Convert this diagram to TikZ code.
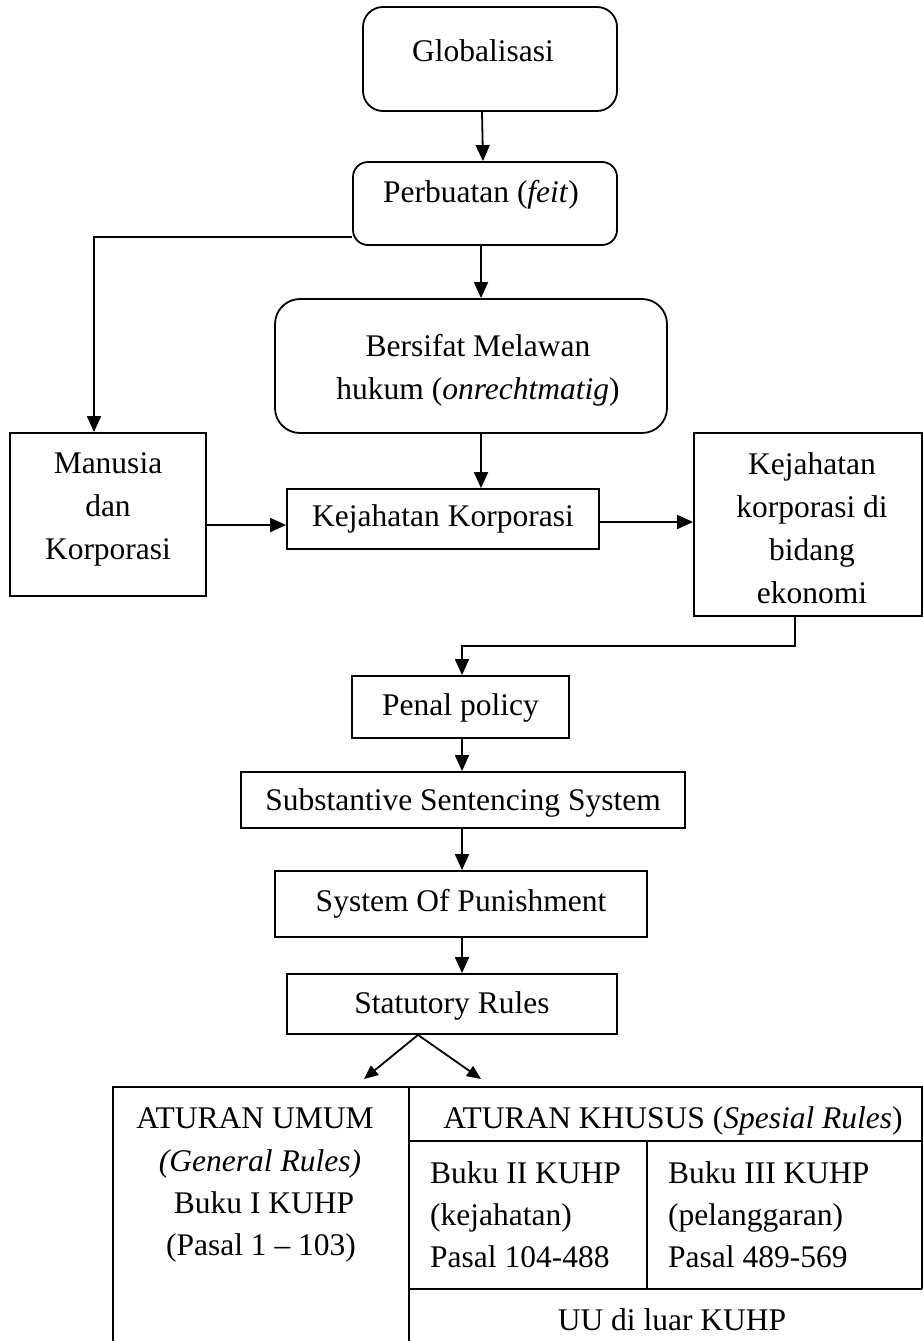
\documentclass[tikz,border=0pt]{standalone}
\usepackage{fontspec}
\setmainfont{Liberation Serif}
\usetikzlibrary{arrows.meta}
\tikzset{
  box/.style={draw, line width=1.8pt, inner sep=0pt},
  rbox/.style={box, rounded corners=#1},
  txt/.style={inner sep=0pt, align=center, font=\fontsize{31.5}{43}\selectfont},
  ltxt/.style={inner sep=0pt, align=left, anchor=base west, font=\fontsize{31.5}{42}\selectfont},
  btxt/.style={inner sep=0pt, anchor=base, font=\fontsize{31.5}{42}\selectfont},
  arr/.style={line width=1.8pt, -{Triangle[length=16pt,width=14pt]}},
  darr/.style={line width=1.8pt, -{Triangle[length=14pt,width=12pt]}},
  ln/.style={line width=1.8pt}
}
\begin{document}
\begin{tikzpicture}[x=1pt,y=-1pt]
\useasboundingbox (0,0) rectangle (923,1341);
% boxes
\node[rbox=20pt, minimum width=254pt, minimum height=104pt] (glob) at (490,59) {};
\node[rbox=15pt, minimum width=264pt, minimum height=83pt] (perb) at (485,203.5) {};
\node[rbox=25pt, minimum width=392pt, minimum height=134pt] (bers) at (471,366) {};
\node[box, minimum width=196pt, minimum height=163pt] (manu) at (108,514.5) {};
\node[box, minimum width=312pt, minimum height=60pt] (kk) at (443,519) {};
\node[box, minimum width=228pt, minimum height=183pt] (eko) at (808,524.5) {};
\node[box, minimum width=217pt, minimum height=62pt] (penal) at (460.5,707) {};
\node[box, minimum width=444pt, minimum height=56pt] (subs) at (463,800) {};
\node[box, minimum width=372pt, minimum height=66pt] (sop) at (461,904) {};
\node[box, minimum width=330pt, minimum height=60pt] (stat) at (452,1004) {};
% texts
\node[txt] (globt) at (483,51) {Globalisasi};
\node[txt] (perbt) at (481,195) {Perbuatan (\textit{feit})};
\node[txt] (berst) at (478,370.5) {Bersifat Melawan\\hukum (\textit{onrechtmatig})};
\node[txt] (manut) at (108,509.5) {Manusia\\dan\\Korporasi};
\node[txt] (kkt) at (443,519) {Kejahatan Korporasi};
\node[txt] (ekot) at (812,528) {Kejahatan\\korporasi di\\bidang\\ekonomi};
\node[txt] (penalt) at (460.5,708) {Penal policy};
\node[txt] (subst) at (463,803) {Substantive Sentencing System};
\node[txt] (sopt) at (461,904) {System Of Punishment};
\node[txt] (statt) at (452,1006) {Statutory Rules};
% connectors
\draw[arr] ([xshift=-8pt]glob.south) -- ([xshift=-2pt]perb.north);
\draw[arr] ([xshift=-4pt]perb.south) -- ([xshift=10pt]bers.north);
\draw[arr] ([yshift=-33.5pt]perb.west) -| ([xshift=-14pt]manu.north);
\draw[arr] ([xshift=10pt]bers.south) -- ([xshift=38pt]kk.north);
\draw[arr] ([yshift=-10.5pt]manu.east) -- ([yshift=-6pt]kk.west);
\draw[arr] ([yshift=-3pt]kk.east) -- ([yshift=2.5pt]eko.west);
\draw[arr] ([xshift=-13pt]eko.south) -- ++(0,29) -| ([xshift=1.5pt]penal.north);
\draw[arr] ([xshift=1.5pt]penal.south) -- ([xshift=-1pt]subs.north);
\draw[arr] ([xshift=-1pt]subs.south) -- ([xshift=1pt]sop.north);
\draw[arr] ([xshift=1pt]sop.south) -- ([xshift=10pt]stat.north);
\coordinate (tl) at (364,1079);
\coordinate (tr) at (481,1079);
\draw[darr] ([xshift=-34pt]stat.south) -- (tl);
\draw[darr] ([xshift=-34pt]stat.south) -- (tr);
% table
\draw[ln] (113,1360) -- (113,1087) -- (922,1087) -- (922,1289);
\draw[ln] (409,1087) -- (409,1360);
\draw[ln] (409,1141) -- (922,1141);
\draw[ln] (647,1141) -- (647,1289);
\draw[ln] (409,1289) -- (922,1289);
\node[btxt] (umum) at (255,1128) {ATURAN UMUM};
\node[btxt] (gen) at (260,1171) {\textit{(General Rules)}};
\node[btxt] (buku1) at (264,1213) {Buku I KUHP};
\node[btxt] (pasal1) at (261,1255) {(Pasal 1 -- 103)};
\node[btxt] (khusus) at (673,1128) {ATURAN KHUSUS (\textit{Spesial Rules})};
\node[ltxt] (b2a) at (430,1183) {Buku II KUHP};
\node[ltxt] (b2b) at (430,1225) {(kejahatan)};
\node[ltxt] (b2c) at (430,1267) {Pasal 104-488};
\node[ltxt] (b3a) at (668,1183) {Buku III KUHP};
\node[ltxt] (b3b) at (668,1225) {(pelanggaran)};
\node[ltxt] (b3c) at (668,1267) {Pasal 489-569};
\node[btxt] (uu) at (672,1330) {UU di luar KUHP};
\end{tikzpicture}
\end{document}
